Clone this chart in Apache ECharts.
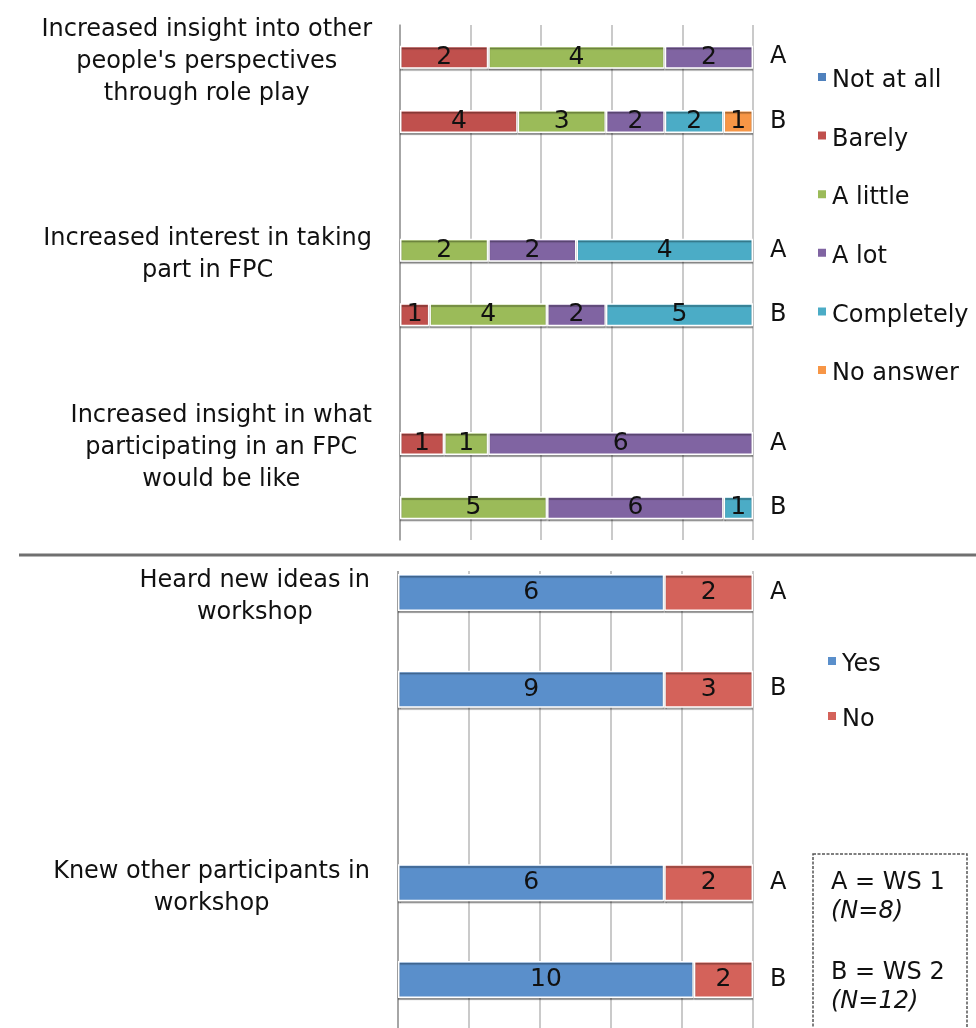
<!DOCTYPE html>
<html>
<head>
<meta charset="utf-8">
<script src="https://cdn.jsdelivr.net/npm/echarts@6/dist/echarts.min.js"></script>
<style>
  html, body { margin: 0; padding: 0; background: #fff; }
  #chart { width: 976px; height: 1028px; }
</style>
</head>
<body>
<div id="chart"></div>
<script>
// questions and answer counts (A = WS 1, B = WS 2)
const topQuestions = [
  'Increased insight into other\npeople\'s perspectives\nthrough role play',
  'Increased interest in taking\npart in FPC',
  'Increased insight in what\nparticipating in an FPC\nwould be like',
]
const levels = ['Not at all', 'Barely', 'A little', 'A lot', 'Completely', 'No answer']
const levelColors = ['#4F81BD', '#C0504D', '#9BBB59', '#8064A2', '#4BACC6', '#F79646']
const topCountsA = [
  [0, 2, 4, 2, 0, 0],
  [0, 0, 2, 2, 4, 0],
  [0, 1, 1, 6, 0, 0],
]
const topCountsB = [
  [0, 4, 3, 2, 2, 1],
  [0, 1, 4, 2, 5, 0],
  [0, 0, 5, 6, 1, 0],
]

const bottomQuestions = ['Heard new ideas in\nworkshop', 'Knew other participants in\nworkshop']
const answers = ['Yes', 'No']
const answerColors = ['#5A8FCB', '#D4625A']
const bottomCountsA = [[6, 2], [6, 2]]
const bottomCountsB = [[9, 3], [10, 2]]

const groups = ['A', 'B']
const groupNotes = [['A = WS 1', '(N=8)'], ['B = WS 2', '(N=12)']]

const FONT = 'DejaVu Sans'
const TEXT = '#111'

function buildRows(questions, countsA, countsB) {
  const rows = []
  questions.forEach((q, i) => {
    rows.push({ label: q, group: groups[0], counts: countsA[i] })
    rows.push({ label: '', group: groups[1], counts: countsB[i] })
    if (i < questions.length - 1) rows.push({ label: '', group: '', counts: null })
  })
  return rows
}

const topRows = buildRows(topQuestions, topCountsA, topCountsB)
const bottomRows = buildRows(bottomQuestions, bottomCountsA, bottomCountsB)

function pctData(rows, k) {
  return rows.map((r) => {
    if (!r.counts || !r.counts[k]) return null
    const total = r.counts.reduce((a, b) => a + b, 0)
    return { value: (r.counts[k] / total) * 100, count: r.counts[k] }
  })
}

function barSeries(names, colors, rows, idx, width) {
  return names.map((name, k) => ({
    name,
    type: 'bar',
    stack: 'total' + idx,
    xAxisIndex: idx,
    yAxisIndex: idx * 2,
    barWidth: width,
    data: pctData(rows, k),
    itemStyle: {
      color: colors[k],
      borderColor: '#fff',
      borderWidth: 1.5,
      shadowColor: 'rgba(0,0,0,0.35)',
      shadowOffsetY: 2,
      shadowBlur: 1,
    },
    label: {
      show: true,
      position: 'inside',
      fontSize: 25,
      fontFamily: FONT,
      color: TEXT,
      formatter: (p) => (p.data ? p.data.count : ''),
    },
    emphasis: { disabled: true },
  }))
}

function valueAxis(idx) {
  return {
    gridIndex: idx,
    type: 'value',
    min: 0,
    max: 100,
    interval: 20,
    axisLabel: { show: false },
    axisLine: { show: false },
    axisTick: { show: false },
    splitLine: { lineStyle: { color: '#b8b8b8', width: 1.5 } },
  }
}

function questionAxis(idx, rows) {
  return {
    gridIndex: idx,
    type: 'category',
    inverse: true,
    data: rows.map((r) => r.label),
    axisLine: { lineStyle: { color: '#9a9a9a', width: 1.5 } },
    axisTick: { length: 6, lineStyle: { color: '#9a9a9a', width: 1.5 } },
    axisLabel: {
      margin: 28,
      interval: 0,
      padding: [9, 0, 0, 0],
      formatter: (v) => (v ? v.split('\n').map((s) => '{c|' + s + '}').join('\n') : ''),
      rich: {
        c: { align: 'center', fontSize: 24, lineHeight: 32, fontFamily: FONT, color: TEXT },
      },
    },
  }
}

function groupAxis(idx, rows) {
  return {
    gridIndex: idx,
    type: 'category',
    position: 'right',
    inverse: true,
    data: rows.map((r) => r.group),
    axisLine: { show: false },
    axisTick: { show: false },
    axisLabel: { margin: 17, interval: 0, fontSize: 24, fontFamily: FONT, color: TEXT },
  }
}

// square marker sitting high next to the text, as in the original legend
const legendBase = {
  orient: 'vertical',
  icon: 'path://M0,0h10v10h-10Z M0,18',
  itemWidth: 10,
  itemHeight: 18,
  padding: 0,
  selectedMode: false,
  textStyle: { fontSize: 24, fontFamily: FONT, color: TEXT, lineHeight: 30 },
}

const chart = echarts.init(document.getElementById('chart'))

const noteTexts = []
groupNotes.forEach((pair, i) => {
  pair.forEach((t, j) => {
    noteTexts.push({
      type: 'text',
      x: 831,
      y: 883 + i * 90 + j * 29,
      z: 60,
      style: {
        text: t,
        font: (j === 1 ? 'italic ' : '') + '24px "' + FONT + '"',
        fill: TEXT,
        verticalAlign: 'middle',
      },
    })
  })
})

chart.setOption({
  animation: false,
  grid: [
    { left: 400, top: 25, width: 353, height: 515 },
    { left: 398, top: 544, width: 355, height: 487 },
  ],
  xAxis: [valueAxis(0), valueAxis(1)],
  yAxis: [
    questionAxis(0, topRows),
    groupAxis(0, topRows),
    questionAxis(1, bottomRows),
    groupAxis(1, bottomRows),
  ],
  legend: [
    Object.assign({}, legendBase, { data: levels, left: 816, top: 66, itemGap: 28.6 }),
    Object.assign({}, legendBase, { data: answers, left: 826, top: 650, itemGap: 25 }),
  ],
  series: [
    ...barSeries(levels, levelColors, topRows, 0, 23),
    ...barSeries(answers, answerColors, bottomRows, 1, 37),
  ],
  graphic: [
    // the lower panel is cut off at its top, as in the original figure
    { type: 'rect', z: 50, shape: { x: 380, y: 541, width: 400, height: 30 }, style: { fill: '#fff' } },
    { type: 'line', z: 60, shape: { x1: 19, y1: 555, x2: 976, y2: 555 }, style: { stroke: '#707070', lineWidth: 3 } },
    {
      type: 'rect',
      z: 60,
      shape: { x: 813, y: 854, width: 154, height: 200 },
      style: { fill: 'none', stroke: '#555', lineWidth: 1.5, lineDash: [3, 1.5] },
    },
    ...noteTexts,
  ],
})
</script>
</body>
</html>
